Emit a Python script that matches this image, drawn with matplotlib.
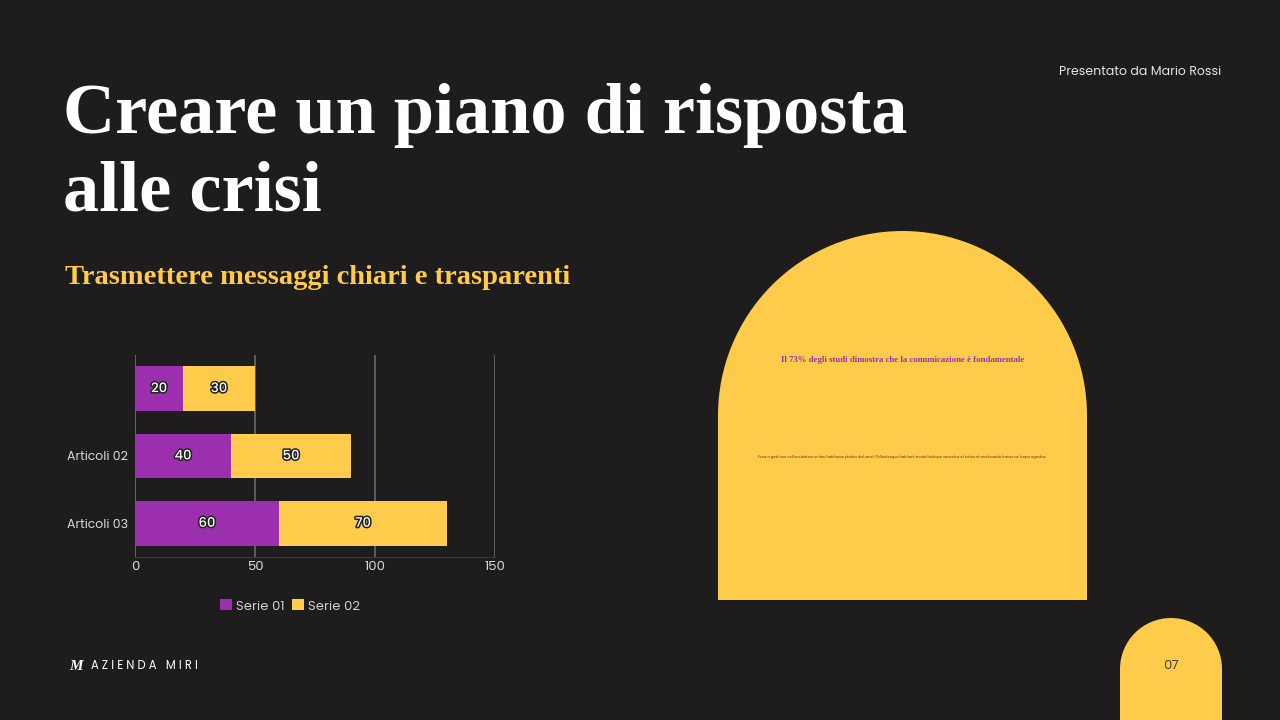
import matplotlib.pyplot as plt
import matplotlib.patheffects as pe
from matplotlib.patches import Rectangle, Wedge

# dati del grafico
categorie = ["Articoli 01", "Articoli 02", "Articoli 03"]
etichette_y = ["", "Articoli 02", "Articoli 03"]
serie_01 = [20, 40, 60]
serie_02 = [30, 50, 70]
serie_nomi = ["Serie 01", "Serie 02"]
x_ticks = [0, 50, 100, 150]

BG = "#1e1c1d"
VIOLA = "#9c2fae"
GIALLO = "#fecb4b"
W, H = 1280, 720

fig = plt.figure(figsize=(12.8, 7.2), dpi=100, facecolor=BG)

# livello di sfondo in pixel
bg = fig.add_axes([0, 0, 1, 1])
bg.set_xlim(0, W)
bg.set_ylim(H, 0)
bg.axis("off")
bg.set_facecolor(BG)

serif = ["Liberation Serif", "DejaVu Serif"]
sans = ["Poppins", "Lato", "DejaVu Sans"]

bg.text(1221, 72, "Presentato da Mario Rossi", color="#e6e6e6", fontsize=9,
        family=sans, ha="right", va="center")
bg.text(63, 116, "Creare un piano di risposta", color="white", fontsize=52,
        family=serif, fontweight="bold", va="center", ha="left")
bg.text(63, 193, "alle crisi", color="white", fontsize=52,
        family=serif, fontweight="bold", va="center", ha="left")
bg.text(65, 277, "Trasmettere messaggi chiari e trasparenti", color=GIALLO,
        fontsize=20.5, family=serif, fontweight="bold", va="center", ha="left")

# arco giallo
r = 184.5
cx = 902.5
cy = 231 + r
bg.add_patch(Wedge((cx, cy), r, 180, 360, color=GIALLO, lw=0))
bg.add_patch(Rectangle((cx - r, cy - 0.5), 2 * r, 600 - cy + 0.5, color=GIALLO, lw=0))
bg.text(cx, 360, "Il 73% degli studi dimostra che la comunicazione è fondamentale",
        color=VIOLA, fontsize=6.3, family=serif, fontweight="bold", ha="center", va="center")
bg.text(cx, 457, "Ecce a gestione nell'incubatore in hac habitasse platea dictumst. "
        "Pellentesque habitant morbi tristique senectus et netus et malesuada fames ac turpis egestas.",
        color="#5a3a20", fontsize=2.6, family=sans, ha="center", va="center")

# numero di pagina
pr = 51
pcx = 1171
bg.add_patch(Wedge((pcx, 618 + pr), pr, 180, 360, color=GIALLO, lw=0))
bg.add_patch(Rectangle((pcx - pr, 618 + pr - 0.5), 2 * pr, 60, color=GIALLO, lw=0))
bg.text(pcx, 666, "07", color="#4a4040", fontsize=9.5, family=sans, ha="center", va="center")

# logo
bg.text(76, 667, "M", color="white", fontsize=11, family=serif, fontweight="bold",
        ha="center", va="center", fontstyle="italic")
bg.text(91, 666, "A Z I E N D A   M I R I", color="white", fontsize=8.3, family=sans,
        ha="left", va="center")

# grafico a barre
ax = fig.add_axes([135 / W, (H - 557) / H, 360 / W, 202 / H])
ax.set_facecolor("none")
ypos = list(range(len(categorie)))
b1 = ax.barh(ypos, serie_01, height=0.667, color=VIOLA, label=serie_nomi[0], zorder=3)
b2 = ax.barh(ypos, serie_02, left=serie_01, height=0.667, color=GIALLO,
             label=serie_nomi[1], zorder=3)
ax.set_xlim(0, 150)
ax.set_ylim(2.5, -0.5)
ax.set_xticks(x_ticks)
ax.set_yticks(ypos)
ax.set_yticklabels(etichette_y)
ax.tick_params(colors="#d9d9d9", labelsize=9, length=0, pad=5)
ax.tick_params(axis="x", labelsize=9.5, pad=3)
for lab in ax.get_xticklabels() + ax.get_yticklabels():
    lab.set_family(sans)
ax.grid(axis="x", color="#6a6868", lw=1.2, zorder=0)
for s in ["top", "right", "left"]:
    ax.spines[s].set_visible(False)
ax.spines["bottom"].set_color("#3a3838")
ax.axvline(0, color="#6a6868", lw=1.2, zorder=0)

stroke = [pe.withStroke(linewidth=2.2, foreground="#222222")]
for bars, vals, offs in [(b1, serie_01, [0, 0, 0]), (b2, serie_02, serie_01)]:
    for i, (v, o) in enumerate(zip(vals, offs)):
        ax.text(o + v / 2, i, str(v), color="white", fontsize=9.5, family=sans,
                fontweight="medium", ha="center", va="center", path_effects=stroke, zorder=4)

leg = fig.legend(handles=[b1, b2], labels=serie_nomi, loc="center",
                 bbox_to_anchor=(290 / W, (H - 606) / H), ncol=2, frameon=False,
                 handlelength=0.9, handleheight=0.9, handletextpad=0.3,
                 columnspacing=0.6, prop={"family": sans, "size": 9.5})
for t in leg.get_texts():
    t.set_color("#cfcfcf")

fig.savefig("out.png", dpi=100, facecolor=BG)
